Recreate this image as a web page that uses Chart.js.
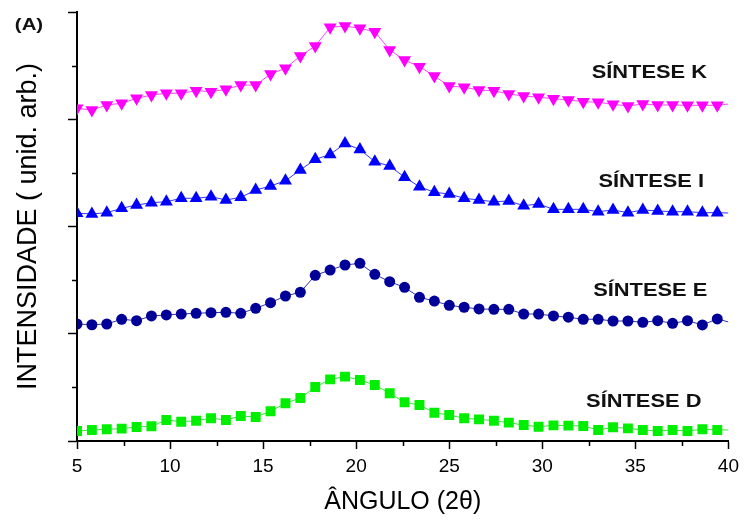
<!DOCTYPE html>
<html>
<head>
<meta charset="utf-8">
<title>Síntese - DRX</title>
<script src="https://cdn.jsdelivr.net/npm/chart.js@4.4.0/dist/chart.umd.min.js"></script>
<style>
	body { margin: 0; background: #fff; }
	#drx-wrap { width: 745px; height: 520px; }
</style>
</head>
<body>
<div id="drx-wrap"><canvas id="drx-chartcanvas" width="745" height="520"></canvas></div>
<script>
"use strict";

// angulo 2theta (marcadores a cada ~0.8, ultimo ponto = fim da linha)
let angles = [5.0, 5.8, 6.6, 7.4, 8.2, 9.0, 9.8, 10.6, 11.4, 12.2, 13.0, 13.8, 14.6, 15.4, 16.2, 17.0, 17.8, 18.6, 19.4, 20.2,
	21.0, 21.8, 22.6, 23.4, 24.2, 25.0, 25.8, 26.6, 27.4, 28.2, 29.0, 29.8, 30.6, 31.4, 32.2, 33.0, 33.8, 34.6, 35.4, 36.2,
	37.0, 37.8, 38.6, 39.4, 40.0];

// intensidades (unid. arb., ja com deslocamento vertical de cada curva)
let sinteseD = [0.093, 0.103, 0.109, 0.115, 0.131, 0.137, 0.196, 0.180, 0.189, 0.212, 0.196, 0.233, 0.224, 0.277, 0.352, 0.401, 0.503, 0.575, 0.600, 0.569,
	0.522, 0.445, 0.361, 0.336, 0.264, 0.242, 0.212, 0.202, 0.189, 0.171, 0.149, 0.133, 0.146, 0.143, 0.140, 0.103, 0.128, 0.118, 0.103, 0.093,
	0.103, 0.093, 0.109, 0.103, 0.103];
let sinteseE = [1.091, 1.084, 1.091, 1.135, 1.122, 1.166, 1.175, 1.184, 1.191, 1.196, 1.200, 1.191, 1.237, 1.290, 1.352, 1.387, 1.545, 1.594, 1.641, 1.657,
	1.554, 1.485, 1.433, 1.340, 1.305, 1.265, 1.247, 1.231, 1.228, 1.228, 1.184, 1.184, 1.166, 1.154, 1.135, 1.135, 1.119, 1.119, 1.107, 1.122,
	1.097, 1.122, 1.082, 1.138, 1.110];
let sinteseI = [2.123, 2.117, 2.129, 2.170, 2.200, 2.222, 2.231, 2.263, 2.263, 2.278, 2.247, 2.272, 2.340, 2.378, 2.427, 2.527, 2.626, 2.672, 2.774, 2.718,
	2.604, 2.564, 2.459, 2.371, 2.319, 2.303, 2.263, 2.247, 2.231, 2.238, 2.194, 2.210, 2.160, 2.160, 2.160, 2.138, 2.154, 2.129, 2.154, 2.145,
	2.138, 2.138, 2.129, 2.129, 2.126];
let sinteseK = [3.102, 3.086, 3.133, 3.149, 3.195, 3.226, 3.242, 3.242, 3.266, 3.257, 3.279, 3.319, 3.319, 3.422, 3.475, 3.590, 3.683, 3.857, 3.869, 3.848,
	3.816, 3.646, 3.552, 3.490, 3.403, 3.310, 3.298, 3.273, 3.266, 3.235, 3.217, 3.205, 3.192, 3.179, 3.164, 3.158, 3.139, 3.124, 3.142, 3.133,
	3.133, 3.130, 3.130, 3.130, 3.142];

let seriesNames = ["SÍNTESE D", "SÍNTESE E", "SÍNTESE I", "SÍNTESE K"];
let xTitle = "ÂNGULO (2θ)";
let yTitle = "INTENSIDADE ( unid. arb.)";
let panelLabel = "(A)";

let fontName = "'Liberation Sans', Arial, sans-serif";

function toPoints(vals) {
	return angles.map(function(a, i) {
		return { x : a, y : vals[i] };
	});
}

// sem marcador no ultimo ponto (so a linha chega ate 40)
function markerSize(r) {
	return function(ctx) {
		return ctx.dataIndex === angles.length - 1 ? 0 : r;
	};
}

function makeSet(label, vals, color, lineColor, style, r, rot) {
	return {
		label : label,
		data : toPoints(vals),
		borderColor : lineColor,
		borderWidth : 1,
		backgroundColor : color,
		pointBackgroundColor : color,
		pointBorderColor : color,
		pointBorderWidth : 0,
		pointStyle : style,
		pointRotation : rot,
		pointRadius : markerSize(r),
		fill : false,
		tension : 0
	};
}

// textos soltos + ticks menores
let extrasPlugin = {
	id : "extras",
	afterDraw : function(chart) {
		let ctx = chart.ctx;
		let xs = chart.scales.x;
		let ys = chart.scales.y;
		let area = chart.chartArea;

		ctx.save();
		ctx.strokeStyle = "#000";
		ctx.lineWidth = 1.5;
		ctx.beginPath();
		for (let v = 7.5; v < 40; v += 5) {
			let px = Math.round(xs.getPixelForValue(v)) + 0.5;
			ctx.moveTo(px, area.bottom);
			ctx.lineTo(px, area.bottom + 5);
		}
		for (let v = 0.5; v < 4; v += 1) {
			let py = Math.round(ys.getPixelForValue(v)) + 0.5;
			ctx.moveTo(area.left, py);
			ctx.lineTo(area.left - 5, py);
		}
		ctx.stroke();

		// nomes das curvas
		let labelPos = [[35.45, 0.364], [35.8, 1.399], [35.85, 2.415], [35.75, 3.431]];
		ctx.fillStyle = "#111";
		ctx.textAlign = "center";
		ctx.textBaseline = "middle";
		ctx.font = "bold 19px " + fontName;
		for (let i = 0; i < seriesNames.length; i++) {
			ctx.save();
			ctx.translate(xs.getPixelForValue(labelPos[i][0]), ys.getPixelForValue(labelPos[i][1]));
			ctx.scale(1.15, 1);
			ctx.fillText(seriesNames[i], 0, 0);
			ctx.restore();
		}

		ctx.save();
		ctx.translate(29, 25);
		ctx.scale(1.2, 1);
		ctx.font = "bold 17px " + fontName;
		ctx.fillText(panelLabel, 0, 0);
		ctx.restore();
		ctx.restore();
	}
};

let drxCtx = document.getElementById("drx-chartcanvas");

let drxData = {
	datasets : [
		makeSet(seriesNames[0], sinteseD, "#00ee00", "#33ee33", "rect", 7, 0),
		makeSet(seriesNames[1], sinteseE, "#000099", "#3333aa", "circle", 5.5, 0),
		makeSet(seriesNames[2], sinteseI, "#0000ff", "#3333ff", "triangle", 7.5, 0),
		makeSet(seriesNames[3], sinteseK, "#ff00ff", "#ff44ff", "triangle", 7.5, 180)
	]
};

let drxOptions = {
	responsive : false,
	animation : false,
	layout : {
		padding : { top : 12, right : 14, left : 0, bottom : 0 }
	},
	plugins : {
		legend : { display : false },
		tooltip : { enabled : false }
	},
	scales : {
		x : {
			type : "linear",
			min : 5,
			max : 40,
			ticks : {
				stepSize : 5,
				color : "#000",
				padding : 6,
				font : { family : fontName, size : 19 }
			},
			grid : {
				drawOnChartArea : false,
				tickLength : 8,
				tickColor : "#000",
				tickWidth : 1.5
			},
			border : { color : "#000", width : 2 },
			title : {
				display : true,
				text : xTitle,
				color : "#000",
				font : { family : fontName, size : 25 },
				padding : { top : 0, bottom : 3 }
			},
			afterFit : function(scale) {
				scale.height = 79;
			}
		},
		y : {
			type : "linear",
			min : 0,
			max : 4,
			ticks : {
				stepSize : 1,
				display : false
			},
			grid : {
				drawOnChartArea : false,
				tickLength : 9,
				tickColor : "#000",
				tickWidth : 1.5
			},
			border : { color : "#000", width : 2 },
			title : {
				display : true,
				text : yTitle,
				color : "#000",
				font : { family : fontName, size : 27 },
				padding : { top : 12, bottom : 0 }
			},
			afterFit : function(scale) {
				scale.width = 77;
			}
		}
	}
};

let drxChart = new Chart(drxCtx, {
	type : "line",
	data : drxData,
	options : drxOptions,
	plugins : [extrasPlugin]
});
</script>
</body>
</html>
